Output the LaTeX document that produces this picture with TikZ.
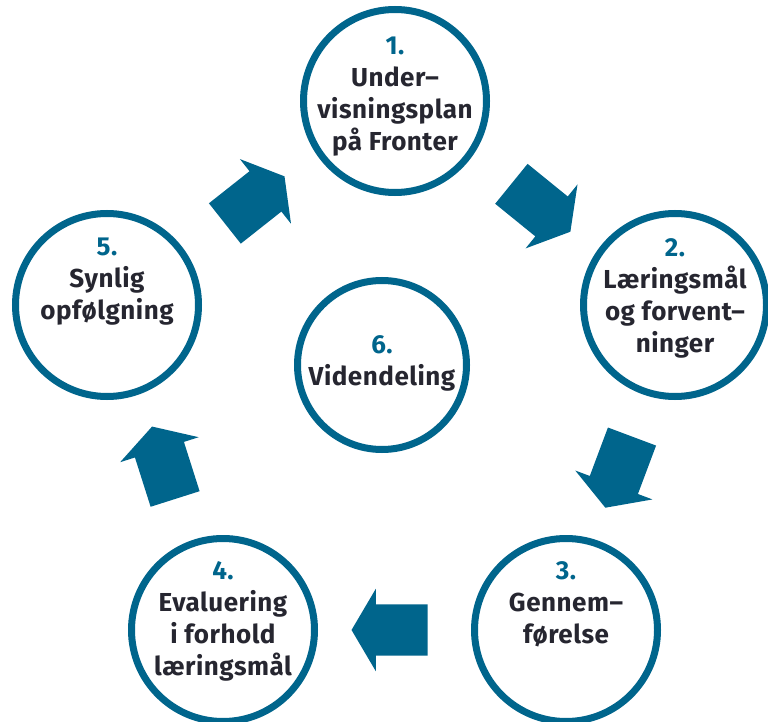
\documentclass[tikz,border=0pt]{standalone}
\usepackage{fontspec}
\setmainfont{Fira Sans}[LetterSpace=2]
\usetikzlibrary{positioning}
\usetikzlibrary{shapes.arrows}
\definecolor{ringblue}{RGB}{0,101,140}
\definecolor{textdark}{RGB}{38,38,48}
\newcommand{\nr}[1]{\textcolor{ringblue}{#1}}
\tikzset{
    every node/.style={
        font=\bfseries\fontsize{26}{32}\selectfont},
    ring/.style={
        circle,
        draw=ringblue,
        line width=7pt,
        minimum size=183pt},
    steptext/.style={
        text=textdark,
        align=center,
        inner sep=0pt},
    block/.style={
        single arrow,
        fill=ringblue,
        inner xsep=20pt,
        inner ysep=25.5pt,
        minimum width=0pt,
        minimum height=76pt,
        single arrow head extend=15.5pt,
        single arrow tip angle=119,
        sloped,
        allow upside down,
        pos=0.483}}

\begin{document}
\begin{tikzpicture}[x=1pt,y=-1pt]
    \fill[white] (0,0) rectangle (768,722);
    \useasboundingbox (0,0) rectangle (768,722);
    \node[ring] (c1) at (395,101) {};
    \node[ring] (c2) at (675,305) {};
    \node[ring] (c3) at (566,630) {};
    \node[ring] (c4) at (223,630) {};
    \node[ring] (c5) at (107,305) {};
    \node[ring, minimum size=169pt] (c6) at (382,365) {};
    \node[steptext, below=31pt of c1.north] (t1) {\nr{1.}\\Under–\\visningsplan\\på Fronter};
    \node[steptext, below=28pt of c2.north] (t2) {\nr{2.}\\Læringsmål\\og forvent–\\ninger};
    \node[steptext, below=26pt of c3.north] (t3) {\nr{3.}\\Gennem–\\førelse};
    \node[steptext, below=26pt of c4.north] (t4) {\nr{4.}\\Evaluering\\i forhold\\læringsmål};
    \node[steptext, below=28pt of c5.north] (t5) {\nr{5.}\\Synlig\\opfølgning};
    \node[steptext, below=58pt of c6.north] (t6) {\nr{6.}\\Videndeling};
    \path (c1) -- node[block, pos=0.5, rotate=-3] (a12) {} (c2);
    \path (c2) -- node[block, rotate=-2] (a23) {} (c3);
    \path (c3) -- node[block] (a34) {} (c4);
    \path (c4) -- node[block, rotate=-2] (a45) {} (c5);
    \path (c5) -- node[block, rotate=3] (a51) {} (c1);
\end{tikzpicture}
\end{document}
